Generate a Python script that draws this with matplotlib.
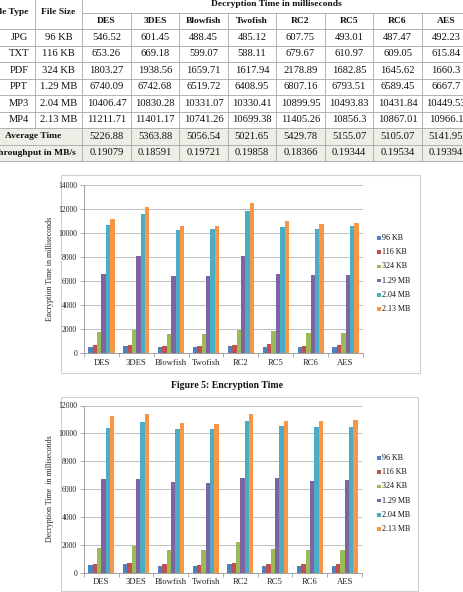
import matplotlib
matplotlib.use("Agg")
import matplotlib.pyplot as plt
from matplotlib.patches import Rectangle
from matplotlib.lines import Line2D
import numpy as np

# ---------------- data ----------------
algorithms = ["DES", "3DES", "Blowfish", "Twofish", "RC2", "RC5", "RC6", "AES"]
file_types = ["JPG", "TXT", "PDF", "PPT", "MP3", "MP4"]
file_sizes = ["96 KB", "116 KB", "324 KB", "1.29 MB", "2.04 MB", "2.13 MB"]

# Decryption time (ms) rows = file size, cols = algorithm
dec_96kb = [546.52, 601.45, 488.45, 485.12, 607.75, 493.01, 487.47, 492.23]
dec_116kb = [653.26, 669.18, 599.07, 588.11, 679.67, 610.97, 609.05, 615.84]
dec_324kb = [1803.27, 1938.56, 1659.71, 1617.94, 2178.89, 1682.85, 1645.62, 1660.3]
dec_129mb = [6740.09, 6742.68, 6519.72, 6408.95, 6807.16, 6793.51, 6589.45, 6667.7]
dec_204mb = [10406.47, 10830.28, 10331.07, 10330.41, 10899.95, 10493.83, 10431.84, 10449.53]
dec_213mb = [11211.71, 11401.17, 10741.26, 10699.38, 11405.26, 10856.3, 10867.01, 10966.1]
avg_time = ["5226.88", "5363.88", "5056.54", "5021.65", "5429.78", "5155.07", "5105.07", "5141.95"]
throughput = ["0.19079", "0.18591", "0.19721", "0.19858", "0.18366", "0.19344", "0.19534", "0.19394"]
dec_text = [
    ["546.52", "601.45", "488.45", "485.12", "607.75", "493.01", "487.47", "492.23"],
    ["653.26", "669.18", "599.07", "588.11", "679.67", "610.97", "609.05", "615.84"],
    ["1803.27", "1938.56", "1659.71", "1617.94", "2178.89", "1682.85", "1645.62", "1660.3"],
    ["6740.09", "6742.68", "6519.72", "6408.95", "6807.16", "6793.51", "6589.45", "6667.7"],
    ["10406.47", "10830.28", "10331.07", "10330.41", "10899.95", "10493.83", "10431.84", "10449.53"],
    ["11211.71", "11401.17", "10741.26", "10699.38", "11405.26", "10856.3", "10867.01", "10966.1"],
]

# Encryption time (ms)
enc_96kb = [500, 580, 470, 470, 580, 530, 470, 500]
enc_116kb = [640, 670, 610, 560, 670, 720, 610, 690]
enc_324kb = [1720, 1890, 1610, 1610, 1890, 1800, 1640, 1690]
enc_129mb = [6590, 8090, 6450, 6450, 8100, 6580, 6500, 6500]
enc_204mb = [10700, 11590, 10250, 10300, 11830, 10500, 10300, 10550]
enc_213mb = [11140, 12200, 10560, 10560, 12500, 11030, 10750, 10800]

series_colors = ["#4F81BD", "#C0504D", "#9BBB59", "#8064A2", "#4BACC6", "#F79646"]

W, H = 464, 592
plt.rcParams["font.family"] = ["Liberation Serif", "DejaVu Serif"]
fig = plt.figure(figsize=(W / 100, H / 100), dpi=100)

def fx(x):
    return x / W

def fy(y):
    return 1 - y / H

def hline(x0, x1, y, color="#A6A6A6", lw=0.6):
    fig.add_artist(Line2D([fx(x0), fx(x1)], [fy(y), fy(y)], color=color, lw=lw,
                          transform=fig.transFigure))

def vline(x, y0, y1, color="#A6A6A6", lw=0.6):
    fig.add_artist(Line2D([fx(x), fx(x)], [fy(y0), fy(y1)], color=color, lw=lw,
                          transform=fig.transFigure))

def rect(x0, y0, x1, y1, fc="none", ec="none", lw=0.8, z=0):
    fig.add_artist(Rectangle((fx(x0), fy(y1)), fx(x1) - fx(x0), fy(y0) - fy(y1),
                             transform=fig.transFigure, facecolor=fc, edgecolor=ec,
                             lw=lw, zorder=z))

def txt(x, y, s, size=8, weight="normal", ha="center", **kw):
    fig.text(fx(x), fy(y), s, fontsize=size, fontweight=weight, ha=ha, va="center",
             color="#111111", **kw)

# ---------------- table ----------------
xs = [-15, 35, 82, 131, 179, 228, 276, 325, 373, 422, 470]
ys = [-4 + 16.5 * i for i in range(11)]
ccol = [(xs[i] + xs[i + 1]) / 2 for i in range(len(xs) - 1)]
crow = [(ys[i] + ys[i + 1]) / 2 for i in range(len(ys) - 1)]

rect(xs[0], ys[8], xs[-1], ys[10], fc="#EEEDE6")
# horizontal lines
hline(xs[2], xs[-1], ys[1])
for r in range(2, 11):
    hline(xs[0], xs[-1], ys[r])
# vertical lines
vline(xs[1], ys[0], ys[8])
vline(xs[2], ys[0], ys[10])
for c in range(3, 10):
    vline(xs[c], ys[1], ys[10])

hdr = 6.8
dat = 7.6
txt(ccol[0], (ys[0] + ys[2]) / 2, "File Type", size=hdr, weight="bold")
txt(ccol[1], (ys[0] + ys[2]) / 2, "File Size", size=hdr, weight="bold")
txt((xs[2] + xs[-1]) / 2, crow[0], "Decryption Time in milliseconds", size=hdr, weight="bold")
for j, a in enumerate(algorithms):
    txt(ccol[2 + j], crow[1], a, size=hdr, weight="bold")
for i in range(6):
    txt(19, crow[2 + i], file_types[i], size=dat)
    txt(ccol[1], crow[2 + i], file_sizes[i], size=dat)
    for j in range(8):
        txt(ccol[2 + j], crow[2 + i], dec_text[i][j], size=dat)
txt((xs[0] + xs[2]) / 2, crow[8], "Average Time", size=hdr, weight="bold")
txt((xs[0] + xs[2]) / 2, crow[9], "Throughput in MB/s", size=hdr, weight="bold")
for j in range(8):
    txt(ccol[2 + j], crow[8], avg_time[j], size=dat)
    txt(ccol[2 + j], crow[9], throughput[j], size=dat)

# ---------------- charts ----------------
def bar_chart(series, left, right, top, bottom, ymax, ylabel, frame, legend_y0):
    rect(*frame, ec="#D0D0D0", lw=0.8)
    ax = fig.add_axes([fx(left), fy(bottom), fx(right) - fx(left), fy(top) - fy(bottom)])
    ax.set_facecolor("none")
    x = np.arange(len(algorithms))
    bw = 0.125
    n = len(series)
    for k, vals in enumerate(series):
        ax.bar(x + (k - (n - 1) / 2) * bw, vals, width=bw, color=series_colors[k],
               zorder=3, linewidth=0)
    ax.set_xlim(-0.5, len(algorithms) - 0.5)
    ax.set_ylim(0, ymax)
    ax.set_yticks(np.arange(0, ymax + 1, 2000))
    ax.yaxis.grid(True, color="#BFBFBF", lw=0.7, zorder=0)
    ax.set_axisbelow(True)
    for s in ["top", "right"]:
        ax.spines[s].set_visible(False)
    for s in ["left", "bottom"]:
        ax.spines[s].set_color("#A0A0A0")
        ax.spines[s].set_linewidth(0.7)
    ax.set_xticks(x)
    ax.set_xticklabels(algorithms, fontsize=6.2, color="#222222")
    ax.set_xticks(np.arange(-0.5, len(algorithms) + 0.5, 1), minor=True)
    ax.tick_params(axis="x", which="major", length=0, pad=4)
    ax.tick_params(axis="x", which="minor", length=3, color="#A0A0A0", width=0.6)
    ax.tick_params(axis="y", length=3, color="#A0A0A0", width=0.6, labelsize=5.6,
                   labelcolor="#222222", pad=2)
    fig.text(fx(50), fy((top + bottom) / 2), ylabel, rotation=90, fontsize=5.8,
             ha="center", va="center", color="#222222")
    for k, lab in enumerate(file_sizes):
        yy = legend_y0 + k * 14.2
        rect(377.5, yy - 1.8, 381, yy + 1.8, fc=series_colors[k])
        txt(382, yy, lab, size=5.8, ha="left")
    return ax

bar_chart([enc_96kb, enc_116kb, enc_324kb, enc_129mb, enc_204mb, enc_213mb],
          84, 363, 185, 353, 14000, "Encryption Time in milliseconds",
          (61.5, 175, 420, 373), 238)
txt(227, 385, "Figure 5: Encryption Time", size=7, weight="bold")
bar_chart([dec_96kb, dec_116kb, dec_324kb, dec_129mb, dec_204mb, dec_213mb],
          84, 362, 405.5, 572.7, 12000, "Decryption Time  in milliseconds",
          (61.5, 397, 418, 591), 458)

fig.savefig("out.png", dpi=100)
